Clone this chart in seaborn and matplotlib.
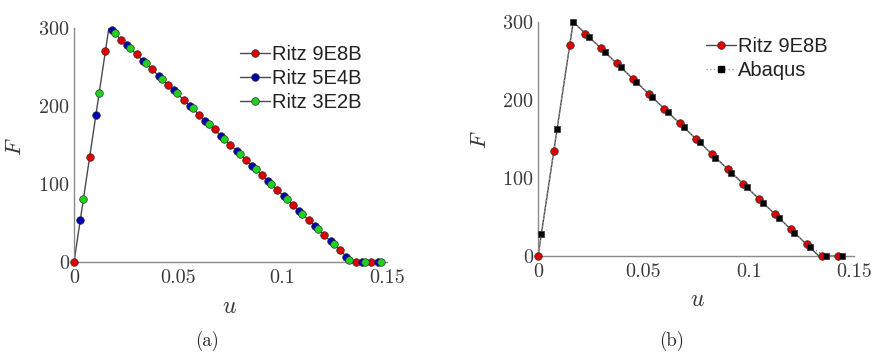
import matplotlib
matplotlib.use("Agg")
import matplotlib.pyplot as plt
from matplotlib.lines import Line2D
import seaborn as sns

# ---------- data ----------
# shared load-displacement path (peak, then softening to zero)
curve_u = [0.0, 0.0167, 0.1333, 0.147]
curve_F = [0.0, 300.0, 0.0, 0.0]

ritz9_u = [0.0, 0.0075, 0.015, 0.0225, 0.03, 0.0375, 0.045, 0.0525, 0.06, 0.0675,
           0.075, 0.0825, 0.09, 0.0975, 0.105, 0.1125, 0.12, 0.1275, 0.135, 0.1425]
ritz9_F = [0, 135, 270, 285, 266, 247, 227, 208, 189, 170,
           150, 131, 112, 92, 73, 54, 34, 15, 0, 0]

ritz5_u = [0.003, 0.0105, 0.018, 0.0255, 0.033, 0.0405, 0.048, 0.0555, 0.063, 0.0705,
           0.078, 0.0855, 0.093, 0.1005, 0.108, 0.1155, 0.123, 0.1305, 0.138, 0.1455]
ritz5_F = [54, 189, 297, 278, 258, 239, 220, 200, 181, 162,
           142, 123, 104, 85, 65, 46, 27, 7, 0, 0]

ritz3_u = [0.0045, 0.012, 0.0195, 0.027, 0.0345, 0.042, 0.0495, 0.057, 0.0645, 0.072,
           0.0795, 0.087, 0.0945, 0.102, 0.1095, 0.117, 0.1245, 0.132, 0.1395, 0.147]
ritz3_F = [81, 216, 293, 274, 255, 235, 216, 197, 177, 158,
           139, 119, 100, 81, 61, 42, 23, 3, 0, 0]

abaqus_u = [0.0, 0.0016, 0.009, 0.0166, 0.0242, 0.0317, 0.0392, 0.0467, 0.0542, 0.0617,
            0.0692, 0.0767, 0.0842, 0.0917, 0.0992, 0.1067, 0.1142, 0.1217, 0.1292,
            0.1367, 0.1442]
abaqus_F = [0, 28, 163, 300, 281, 262, 242, 223, 204, 184,
            165, 146, 126, 107, 88, 68, 49, 30, 11, 0, 0]

ritzb_curve_u = [0.0, 0.0167, 0.1333, 0.1425]
ritzb_curve_F = [0.0, 300.0, 0.0, 0.0]

x_ticks = [0, 0.05, 0.1, 0.15]
x_ticklabels = ["0", "0.05", "0.1", "0.15"]
y_ticks = [0, 100, 200, 300]

RED = "#dd0000"
BLUE = "#0000b4"
GREEN = "#1ed21e"
LINE = "#4a4a4a"
EDGE = "#303030"
AXC = "#8a8a8a"

sns.set_style("white")
plt.rcParams["font.family"] = ["cmr10", "DejaVu Serif"]
plt.rcParams["mathtext.fontset"] = "cm"
plt.rcParams["axes.formatter.use_mathtext"] = True

fig = plt.figure(figsize=(8.74, 3.52), dpi=100)
ax_a = fig.add_axes([0.0847, 0.2557, 0.358, 0.665])
ax_b = fig.add_axes([0.6156, 0.2727, 0.3616, 0.665])


def style_axes(ax):
    ax.set_xlim(0, 0.15)
    ax.set_ylim(0, 300)
    ax.set_xticks(x_ticks)
    ax.set_xticklabels(x_ticklabels)
    ax.set_yticks(y_ticks)
    for s in ["top", "right"]:
        ax.spines[s].set_visible(False)
    for s in ["left", "bottom"]:
        ax.spines[s].set_color(AXC)
        ax.spines[s].set_linewidth(1.0)
    ax.tick_params(direction="in", length=3, width=0.8, color=AXC,
                   labelcolor="#3a3a3a", labelsize=14.5)
    ax.tick_params(axis="x", pad=5)
    ax.tick_params(axis="y", pad=3)


def dots(ax, u, F, color, marker="o", size=30):
    sns.scatterplot(x=u, y=F, ax=ax, color=color, marker=marker, s=size,
                    edgecolor=EDGE, linewidth=0.5, zorder=5, clip_on=False,
                    legend=False)


legend_font = {"family": "Liberation Sans", "size": 14.5}

# ---------- (a) ----------
sns.lineplot(x=curve_u, y=curve_F, ax=ax_a, color=LINE, lw=1.0, zorder=2)
dots(ax_a, ritz9_u, ritz9_F, RED)
dots(ax_a, ritz5_u, ritz5_F, BLUE)
dots(ax_a, ritz3_u, ritz3_F, GREEN)
style_axes(ax_a)

handles_a = [Line2D([], [], color=LINE, lw=1.0, marker="o", ms=5.5, mfc=c,
                    mec=EDGE, mew=0.5) for c in (RED, BLUE, GREEN)]
ax_a.legend(handles_a, ["Ritz 9E8B", "Ritz 5E4B", "Ritz 3E2B"],
            loc="upper left", bbox_to_anchor=(0.53, 0.925), frameon=False,
            borderpad=0, borderaxespad=0, handlelength=1.5, handletextpad=0.1,
            labelspacing=0.24, prop=legend_font, labelcolor="#222222")

# ---------- (b) ----------
sns.lineplot(x=ritzb_curve_u, y=ritzb_curve_F, ax=ax_b, color=LINE, lw=1.0, zorder=2)
sns.lineplot(x=abaqus_u, y=abaqus_F, ax=ax_b, color="#9a9a9a", lw=1.0,
             linestyle=":", zorder=3)
dots(ax_b, ritz9_u, ritz9_F, RED)
dots(ax_b, abaqus_u[1:], abaqus_F[1:], "black", marker="s", size=24)
style_axes(ax_b)

handles_b = [
    Line2D([], [], color=LINE, lw=1.0, marker="o", ms=5.5, mfc=RED, mec=EDGE, mew=0.5),
    Line2D([], [], color="#9a9a9a", lw=1.0, ls=":", marker="s", ms=5, mfc="black",
           mec="black"),
]
ax_b.legend(handles_b, ["Ritz 9E8B", "Abaqus"],
            loc="upper left", bbox_to_anchor=(0.532, 0.937), frameon=False,
            borderpad=0, borderaxespad=0, handlelength=1.5, handletextpad=0.1,
            labelspacing=0.26, prop=legend_font, labelcolor="#222222")

# axis labels
for ax, (fx, fy), (ux, uy) in [(ax_a, (-0.188, 0.491), (0.498, -0.192)),
                               (ax_b, (-0.184, 0.496), (0.503, -0.188))]:
    ax.set_ylabel("$F$", fontsize=16, color="#333333", va="center")
    ax.yaxis.set_label_coords(fx, fy)
    ax.set_xlabel("$u$", fontsize=17, color="#333333", va="center")
    ax.xaxis.set_label_coords(ux, uy)

fig.text(0.237, 0.004, "(a)", fontsize=13.5, ha="center", va="bottom", color="#222222")
fig.text(0.769, 0.004, "(b)", fontsize=13.5, ha="center", va="bottom", color="#222222")

fig.savefig("out.png", dpi=100)
